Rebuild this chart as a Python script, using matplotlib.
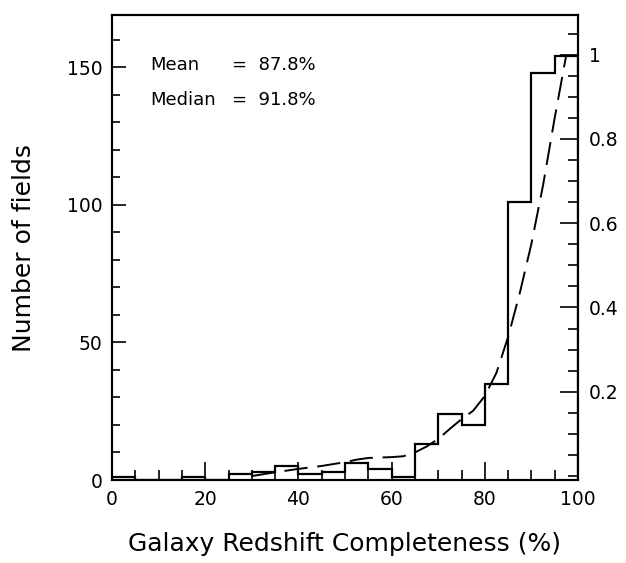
import matplotlib
matplotlib.use('Agg')
import matplotlib.pyplot as plt
import numpy as np
from matplotlib.ticker import MultipleLocator, FixedLocator

# Histograma: bordes de los bins (5%) y número de campos en cada uno
bin_edges = np.arange(0, 105, 5)
counts = [1, 0, 0, 1, 0, 2, 3, 5, 2, 3, 6, 4, 1, 13, 24, 20, 35, 101, 148, 154]

# Curva a trazos (eje derecho, fracción acumulada)
curve_x = [30, 35, 40, 45, 50, 52.5, 55, 60, 62.5, 65, 67.5, 70, 72.5, 75,
           77.5, 80, 82.5, 85, 87.5, 90, 92.5, 95, 97.5]
curve_y = [0.0, 0.009, 0.017, 0.024, 0.033, 0.039, 0.043, 0.045, 0.047, 0.056,
           0.070, 0.088, 0.112, 0.135, 0.155, 0.19, 0.245, 0.33, 0.434, 0.551,
           0.69, 0.85, 1.0]

mean_txt = '=  87.8%'
median_txt = '=  91.8%'

plt.rcParams['font.family'] = 'DejaVu Sans'

fig = plt.figure(figsize=(6.26, 5.63), dpi=100)
ax = fig.add_axes([112/626, 83/563, 466/626, 465/563])

ax.stairs(counts, bin_edges, color='black', linewidth=1.6)

ax.set_xlim(0, 100)
ax.set_ylim(0, 169)

ax.xaxis.set_major_locator(MultipleLocator(20))
ax.xaxis.set_minor_locator(MultipleLocator(5))
ax.yaxis.set_major_locator(MultipleLocator(50))
ax.yaxis.set_minor_locator(MultipleLocator(10))
ax.tick_params(which='both', direction='in', top=False, right=False,
               width=1.2, labelsize=13.5)
ax.tick_params(axis='x', which='major', length=13, pad=7)
ax.tick_params(axis='x', which='minor', length=7)
ax.tick_params(axis='y', which='major', length=10, pad=7)
ax.tick_params(axis='y', which='minor', length=6)

for spine in ax.spines.values():
    spine.set_linewidth(1.5)

ax.set_xlabel('Galaxy Redshift Completeness (%)', fontsize=18, labelpad=17)
ax.set_ylabel('Number of fields', fontsize=18, labelpad=22)

# Eje derecho para la curva
ax2 = ax.twinx()
ax2.plot(curve_x, curve_y, color='black', linewidth=1.4, dashes=(12, 5))
ax2.set_ylim(-0.0093, 1.094)
ax2.yaxis.set_major_locator(FixedLocator([0.2, 0.4, 0.6, 0.8, 1.0]))
ax2.yaxis.set_minor_locator(MultipleLocator(0.05))
ax2.set_yticklabels(['0.2', '0.4', '0.6', '0.8', '1'])
ax2.tick_params(which='both', direction='in', width=1.2, labelsize=13.5)
ax2.tick_params(which='major', length=13, pad=8)
ax2.tick_params(which='minor', length=7)
for spine in ax2.spines.values():
    spine.set_linewidth(1.5)

# Textos de media y mediana
ax.text(8.2, 151, 'Mean', fontsize=13, va='center', ha='left')
ax.text(25.8, 151, mean_txt, fontsize=13, va='center', ha='left')
ax.text(8.2, 138, 'Median', fontsize=13, va='center', ha='left')
ax.text(25.8, 138, median_txt, fontsize=13, va='center', ha='left')

fig.savefig('out.png', dpi=100)
